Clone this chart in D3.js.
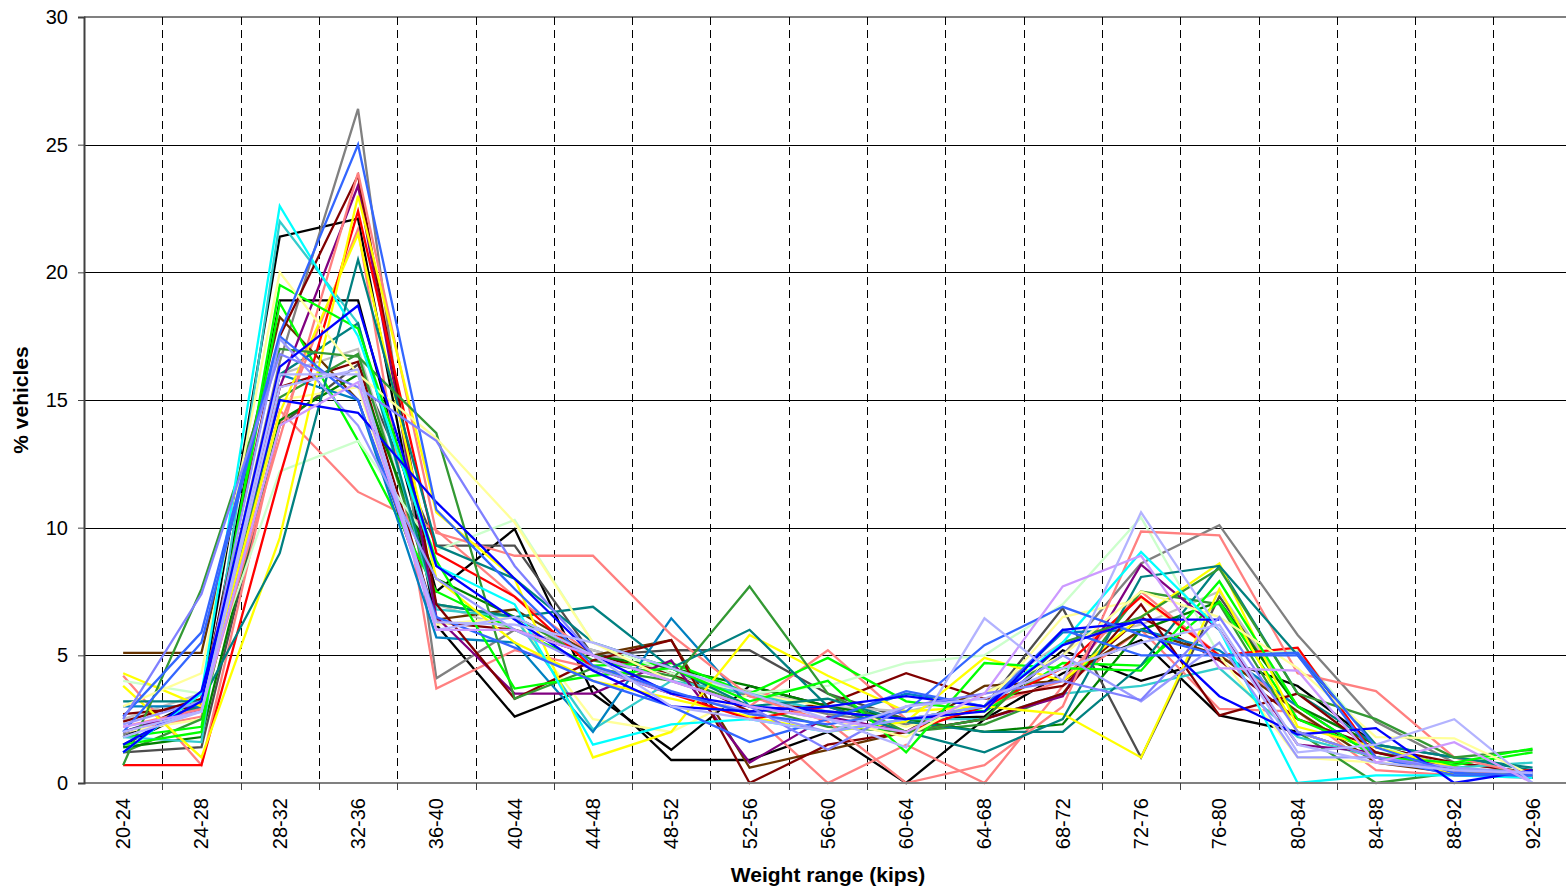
<!DOCTYPE html>
<html><head><meta charset="utf-8">
<script src="https://cdn.jsdelivr.net/npm/d3@7"></script>
<style>body{margin:0;background:#fff}svg{display:block}text{font-family:"Liberation Sans",Arial,sans-serif}</style>
</head><body>
<svg id="c" width="1566" height="890"></svg>
<script>
const categories = ["20-24","24-28","28-32","32-36","36-40","40-44","44-48","48-52","52-56","56-60","60-64","64-68","68-72","72-76","76-80","80-84","84-88","88-92","92-96"];
const yTicks = [0,5,10,15,20,25,30];

const blackA = [1.5,3.0,18.9,18.9,7.5,9.95,3.5,1.3,3.8,3.0,2.5,2.6,5.2,4.0,4.9,3.8,1.5,0.6,0.3];
const blackB = [1.8,3.3,21.4,22.1,6.2,2.6,3.8,0.9,0.9,2.0,0.0,2.5,4.3,5.6,2.65,2.0,1.0,0.5,0.3];
const gray = [1.9,3.1,16.5,26.4,4.1,6.0,5.2,4.3,3.4,2.7,2.3,3.0,5.0,8.6,10.1,5.8,2.4,0.8,0.4];
const darkGray = [1.2,1.4,14.0,16.4,9.3,9.3,5.0,5.2,5.2,3.5,2.5,3.0,6.85,1.0,7.3,3.0,1.5,0.5,0.2];
const lightGray = [2.5,3.5,16.0,17.0,7.0,6.0,5.2,4.3,3.6,3.0,2.8,3.5,5.5,6.2,7.5,3.0,1.5,0.6,0.3];
const red = [0.7,0.7,12.0,22.4,9.0,7.3,4.5,3.5,2.5,3.0,2.0,3.0,4.5,7.3,5.0,5.3,1.0,0.4,0.5];
const salmonA = [2.2,2.9,13.5,23.9,9.8,8.9,8.9,5.8,3.4,2.4,0.0,0.7,3.0,9.85,9.7,4.3,3.6,1.0,0.3];
const salmonB = [2.0,2.6,14.6,11.4,9.9,7.3,5.0,4.0,3.0,5.2,2.5,3.0,4.0,7.5,5.0,3.0,1.0,0.6,0.3];
const salmonC = [4.2,0.7,14.0,21.7,3.7,5.2,4.5,3.5,2.8,0.0,1.5,0.0,3.8,6.0,2.9,2.8,0.5,0.3,0.2];
const maroonA = [2.4,3.3,17.5,23.8,7.0,3.3,4.8,5.6,0.0,1.5,2.0,2.5,3.5,7.0,2.65,3.5,1.2,0.5,0.2];
const maroonB = [2.7,3.0,15.5,16.5,6.3,6.0,5.0,4.3,2.8,3.1,4.3,3.3,3.8,6.5,4.8,2.5,1.4,0.8,0.4];
const purple = [2.0,2.9,15.5,23.4,6.5,3.5,3.5,4.8,0.8,2.6,2.0,2.5,3.4,8.55,6.0,1.5,1.2,0.6,0.3];
const brown = [5.1,5.1,18.25,15.0,6.4,6.8,5.0,5.6,0.6,1.3,2.0,3.8,4.0,6.0,5.0,2.8,0.8,0.4,0.2];
const yellowA = [3.8,1.0,9.6,23.0,10.6,8.0,1.0,2.0,5.8,4.2,2.8,3.0,2.7,1.0,7.6,2.0,1.0,0.4,0.3];
const yellowB = [4.3,3.0,14.5,21.5,8.0,5.5,4.0,3.3,2.6,2.0,2.4,4.9,4.0,6.5,8.6,2.2,1.4,0.6,0.3];
const lightYellowA = [3.0,4.3,20.0,16.0,13.5,10.2,5.5,4.0,3.0,2.5,1.8,3.5,5.0,7.5,6.5,4.5,1.8,1.75,0.3];
const lightYellowB = [2.0,2.5,15.0,15.5,6.2,6.5,2.5,2.0,3.5,3.0,2.2,3.0,6.5,7.2,5.0,1.0,0.8,0.6,0.4];
const greenA = [1.5,2.0,19.5,17.8,8.7,3.7,4.2,4.5,3.2,4.0,1.2,4.7,4.5,4.4,7.9,3.0,1.0,0.8,1.35];
const greenB = [1.8,2.2,18.8,13.4,7.5,6.0,4.6,4.7,3.5,4.9,3.2,2.8,4.7,4.6,7.1,2.5,1.2,0.7,1.2];
const forestA = [0.7,7.6,17.0,16.7,13.7,3.3,4.5,4.0,7.7,3.5,2.0,2.5,5.5,6.5,8.4,3.5,2.5,1.0,1.3];
const forestB = [1.2,2.5,15.1,16.8,7.0,6.5,4.8,4.2,3.0,2.2,2.0,2.3,3.5,7.5,7.0,2.0,0.0,0.4,0.3];
const darkGreen = [1.4,1.8,14.2,16.0,8.0,6.5,5.0,4.5,3.8,3.0,2.5,2.0,2.3,6.0,7.1,3.0,1.5,0.5,0.5];
const lightGreen = [4.0,3.5,12.2,13.4,9.1,10.3,5.5,4.3,3.5,3.8,4.7,5.0,7.0,10.4,5.0,5.2,1.5,0.5,0.3];
const cyan = [1.2,3.5,22.6,17.5,8.5,7.0,1.5,2.3,2.5,2.0,2.5,3.0,5.5,9.05,6.0,0.0,0.3,0.3,0.2];
const turquoise = [1.8,1.6,22.0,18.0,6.8,6.5,2.1,4.0,3.5,2.8,2.5,2.5,3.5,3.8,4.5,1.8,1.0,0.6,0.8];
const tealA = [3.2,3.2,9.0,20.5,9.3,8.0,5.5,4.5,6.0,3.0,2.0,1.2,2.5,8.07,8.5,5.0,1.5,1.0,0.6];
const tealB = [2.0,3.0,16.0,18.0,7.0,6.5,6.9,4.5,3.0,3.3,2.4,2.0,2.0,4.6,8.5,3.5,1.5,1.0,0.5];
const steelBlue = [3.0,3.0,16.0,15.0,5.7,5.5,2.0,6.45,3.0,2.5,3.5,3.0,5.9,6.0,5.2,3.0,1.0,0.5,0.4];
const blueA = [1.5,3.2,16.3,18.7,8.5,6.4,4.4,3.0,2.8,3.0,3.4,3.0,5.4,6.4,6.4,null,null,null,null];
const blueB = [1.2,3.6,15.0,14.5,11.0,8.0,5.0,3.5,3.0,2.8,2.5,2.8,6.0,6.3,3.4,1.9,2.15,0.0,0.5];
const royalA = [2.6,5.9,17.6,25.0,10.7,7.6,4.6,3.6,2.7,2.3,2.8,5.4,6.9,5.8,5.0,5.1,1.4,0.4,0.3];
const royalB = [2.0,5.5,17.5,15.0,6.5,5.3,4.0,3.0,1.6,2.5,3.6,3.0,6.0,5.0,5.0,5.0,1.0,0.3,0.3];
const lightBlue = [2.5,7.4,16.8,15.5,13.4,8.5,5.0,4.0,3.0,1.3,3.0,3.5,4.0,3.25,6.5,2.0,1.0,0.5,0.4];
const periwinkle = [2.3,3.2,17.4,14.0,8.0,6.0,4.5,3.5,2.8,2.0,2.5,3.0,5.0,3.2,5.5,1.0,1.0,0.6,0.4];
const lightPurple = [2.2,2.8,14.0,15.7,6.0,6.0,5.0,4.0,3.0,2.5,2.0,3.5,7.7,8.9,4.5,4.4,0.8,1.6,0.0];
const lavenderA = [2.0,2.8,16.0,16.0,6.3,6.2,5.5,4.5,3.5,2.5,1.4,6.45,4.0,10.6,6.0,1.2,1.5,2.5,0.0];
const lavenderB = [1.8,2.8,15.5,16.2,6.0,6.5,5.0,3.0,2.5,2.0,3.0,3.3,4.5,5.5,6.2,1.5,0.8,0.5,0.4];

const seriesList = [
  [blackA,"#000000"],[blackB,"#000000"],[gray,"#808080"],[darkGray,"#4D4D4D"],[lightGray,"#C0C0C0"],
  [salmonB,"#FF8080"],[salmonC,"#FF8080"],[maroonB,"#800000"],[brown,"#663300"],
  [lightYellowB,"#FFFF99"],[forestB,"#339933"],[darkGreen,"#008000"],[greenB,"#00FF00"],
  [lightGreen,"#CCFFCC"],[turquoise,"#33CCCC"],[tealB,"#008080"],[steelBlue,"#0080C0"],
  [purple,"#800080"],[maroonA,"#800000"],[yellowB,"#FFFF00"],[red,"#FF0000"],[salmonA,"#FF8080"],
  [yellowA,"#FFFF00"],[tealA,"#008080"],[forestA,"#339933"],[greenA,"#00FF00"],[lightYellowA,"#FFFF99"],
  [cyan,"#00FFFF"],[royalB,"#3366FF"],[periwinkle,"#9999FF"],[blueB,"#0000FF"],[royalA,"#3366FF"],
  [blueA,"#0000FF"],[lightBlue,"#8080FF"],[lavenderB,"#B3B3FF"],[lightPurple,"#CC99FF"],[lavenderA,"#B3B3FF"]
];

const svg = d3.select("#c");
const L = 84, T = 17, B = 783, bw = 78.3;
const x = d3.scaleBand().domain(categories).range([L, L + bw * categories.length]).padding(0);
const y = d3.scaleLinear().domain([0, 30]).range([B, T]);
const cx = c => x(c) + x.bandwidth() / 2;

// horizontal gridlines
svg.append("g").selectAll("line").data(yTicks.filter(v => v > 0 && v < 30)).join("line")
  .attr("x1", L).attr("x2", 1566).attr("y1", d => Math.round(y(d)) + 0.5).attr("y2", d => Math.round(y(d)) + 0.5)
  .attr("stroke", "#000").attr("stroke-width", 1);
// top border
svg.append("line").attr("x1", L).attr("x2", 1566).attr("y1", y(30)).attr("y2", y(30))
  .attr("stroke", "#808080").attr("stroke-width", 2);
// vertical dashed gridlines
const bounds = categories.slice(1).map(c => Math.round(x(c)) + 0.5);
svg.append("g").selectAll("line").data(bounds).join("line")
  .attr("x1", d => d).attr("x2", d => d).attr("y1", T).attr("y2", B)
  .attr("stroke", "#000").attr("stroke-width", 1).attr("stroke-dasharray", "8,5");

// series
const line = d3.line().defined(d => d[1] != null).x(d => cx(d[0])).y(d => y(d[1]));
svg.append("g").selectAll("path").data(seriesList).join("path")
  .attr("d", s => line(categories.map((c, i) => [c, s[0][i]])))
  .attr("fill", "none").attr("stroke", s => s[1]).attr("stroke-width", 2.3).attr("stroke-linejoin", "miter");

// x axis
svg.append("line").attr("x1", L).attr("x2", 1566).attr("y1", B).attr("y2", B).attr("stroke", "#808080").attr("stroke-width", 2);
svg.append("g").selectAll("line").data(bounds).join("line")
  .attr("x1", d => d).attr("x2", d => d).attr("y1", B).attr("y2", B + 7).attr("stroke", "#404040").attr("stroke-width", 1);
svg.append("g").selectAll("text").data(categories).join("text")
  .attr("transform", d => `translate(${cx(d) + 7},798) rotate(-90)`)
  .attr("text-anchor", "end").attr("font-size", 20).attr("fill", "#000").text(d => d);

// y axis
const yAxis = d3.axisLeft(y).tickValues(yTicks).tickSize(6).tickPadding(10);
const gy = svg.append("g").attr("transform", `translate(${L},0)`).call(yAxis);
gy.select(".domain").attr("stroke", "#404040").attr("stroke-width", 2);
gy.selectAll(".tick line").attr("stroke", "#404040");
gy.selectAll(".tick text").attr("font-size", 20).attr("font-family", '"Liberation Sans",Arial,sans-serif').attr("fill", "#000");

// titles
svg.append("text").attr("x", 828).attr("y", 882).attr("text-anchor", "middle")
  .attr("font-size", 21).attr("font-weight", "bold").text("Weight range (kips)");
svg.append("text").attr("transform", "translate(28,400) rotate(-90)").attr("text-anchor", "middle")
  .attr("font-size", 21).attr("font-weight", "bold").text("% vehicles");
</script>
</body></html>
